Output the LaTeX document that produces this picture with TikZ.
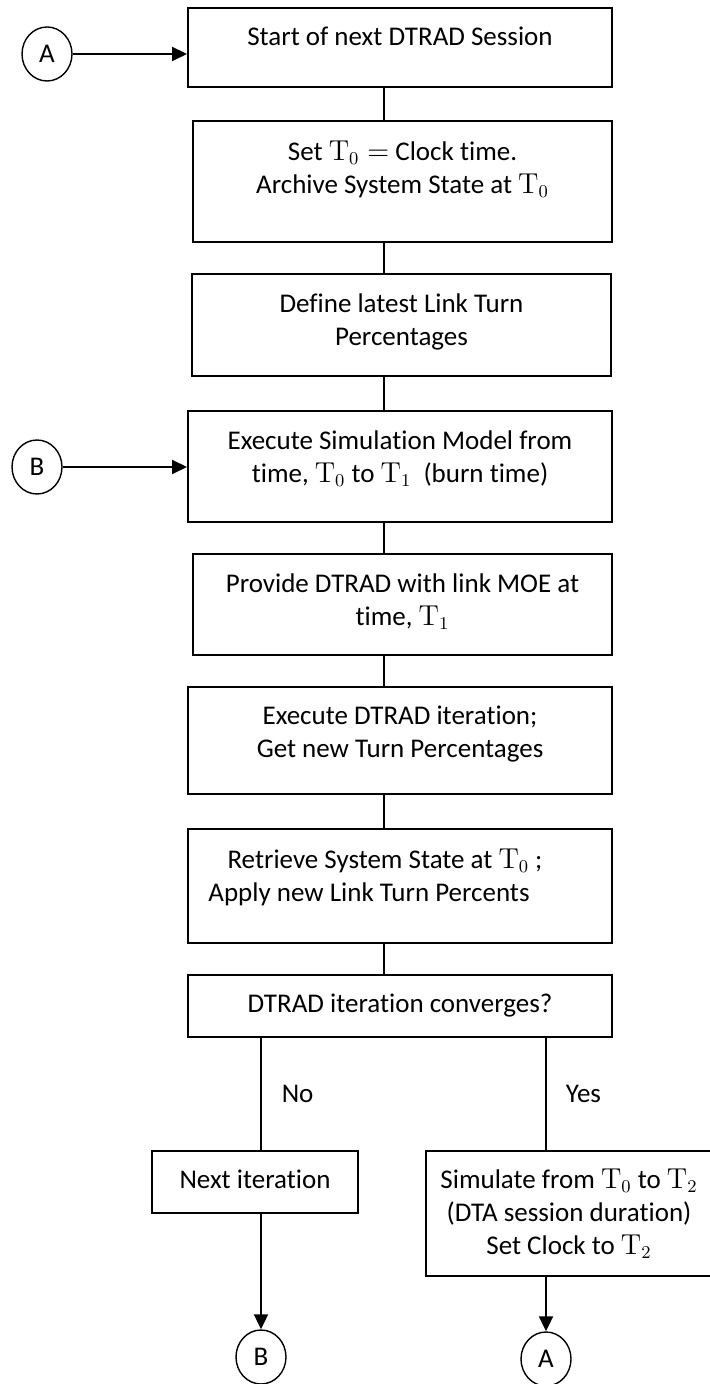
\documentclass[tikz,border=0pt]{standalone}
\usepackage[no-math]{fontspec}
\setmainfont{Carlito}[Ligatures=NoCommon]
\usetikzlibrary{positioning,arrows.meta,shapes.geometric}

\tikzset{
  stepbox/.style={draw, line width=1pt, anchor=north, inner sep=0pt},
  steptext/.style={align=center, inner sep=0pt, anchor=north, font=\fontsize{13.5}{16.5}\selectfont},
  branch/.style={inner sep=0pt, font=\fontsize{13.5}{16.5}\selectfont},
  link/.style={line width=0.8pt},
  flowarrow/.style={line width=1pt, -{Triangle[length=7.5pt,width=7pt]}},
  jump/.style={draw, ellipse, line width=0.7pt, minimum width=25pt, minimum height=27pt, inner sep=0pt, font=\fontsize{13.5}{16.5}\selectfont}
}

\begin{document}
\begin{tikzpicture}[x=0.5pt, y=-0.5pt]
        \useasboundingbox (0,0) rectangle (710,1384);
        \coordinate (spine) at (384,0);

        \node[stepbox, minimum width=212pt, minimum height=39.5pt] (start) at (400,7) {};
        \node[stepbox, minimum width=209.5pt, minimum height=60.5pt] (clock) at (402.5,120) {};
        \node[stepbox, minimum width=209.5pt, minimum height=51pt] (turns) at (401.5,273) {};
        \node[stepbox, minimum width=212pt, minimum height=55.5pt] (burn) at (400,410) {};
        \node[stepbox, minimum width=209.5pt, minimum height=50.5pt] (moe) at (402.5,553) {};
        \node[stepbox, minimum width=212pt, minimum height=53.5pt] (iter) at (400,686) {};
        \node[stepbox, minimum width=212pt, minimum height=57pt] (restore) at (400,828) {};
        \node[stepbox, minimum width=212pt, minimum height=31pt] (conv) at (400,974) {};
        \node[stepbox, minimum width=103pt, minimum height=31pt] (next) at (255,1150) {};
        \node[stepbox, minimum width=143pt, minimum height=62.5pt] (sim) at (569,1150) {};

        \node[steptext, below=10pt of start.north] (startlbl) {Start of next DTRAD Session};
        \node[steptext, below=10pt of clock.north] (clocklbl) {Set\ $\mathrm{T}_0 =$ Clock time.\\Archive System State at\ $\mathrm{T}_0$};
        \node[steptext, below=10pt of turns.north] (turnslbl) {Define latest Link Turn\\Percentages};
        \node[steptext, below=10pt of burn.north] (burnlbl) {Execute Simulation Model from\\time,\ $\mathrm{T}_0$ to $\mathrm{T}_1$\ \ (burn time)};
        \node[steptext, below=10pt of moe.north] (moelbl) {Provide DTRAD with link MOE at\\time,\ $\mathrm{T}_1$};
        \node[steptext, below=10pt of iter.north] (iterlbl) {Execute DTRAD iteration;\\Get new Turn Percentages};
        \node[steptext, below=10pt of restore.north] (restorelbl) {Retrieve System State at\ $\mathrm{T}_0$ ;\rule{15pt}{0pt}\\Apply new Link Turn Percents\rule{31pt}{0pt}};
        \node[steptext, below=10pt of conv.north] (convlbl) {DTRAD iteration converges?};
        \node[steptext, below=10pt of next.north] (nextlbl) {Next iteration};
        \node[steptext, below=9pt of sim.north] (simlbl) {Simulate from\ $\mathrm{T}_0$ to $\mathrm{T}_2$\\(DTA session duration)\\Set Clock to\ $\mathrm{T}_2$};

        \node[jump] (inA) at (47,54) {A};
        \node[jump] (inB) at (37,467) {B};
        \node[jump] (outB) at (261,1357) {B};
        \node[jump] (outA) at (546,1359) {A};

        \draw[link] (start.south -| spine) -- (clock.north -| spine);
        \draw[link] (clock.south -| spine) -- (turns.north -| spine);
        \draw[link] (turns.south -| spine) -- (burn.north -| spine);
        \draw[link] (burn.south -| spine) -- (moe.north -| spine);
        \draw[link] (moe.south -| spine) -- (iter.north -| spine);
        \draw[link] (iter.south -| spine) -- (restore.north -| spine);
        \draw[link] (restore.south -| spine) -- (conv.north -| spine);
        \draw[link] (conv.south -| outB) -- node[branch, right=10pt] (no) {No} (next.north -| outB);
        \draw[link] (conv.south -| outA) -- node[branch, right=9.5pt] (yes) {Yes} (sim.north -| outA);

        \draw[flowarrow] (inA) -- (inA -| start.west);
        \draw[flowarrow] (inB) -- (inB -| burn.west);
        \draw[flowarrow] (next.south -| outB) -- (outB);
        \draw[flowarrow] (sim.south -| outA) -- (outA);
      \end{tikzpicture}
\end{document}
